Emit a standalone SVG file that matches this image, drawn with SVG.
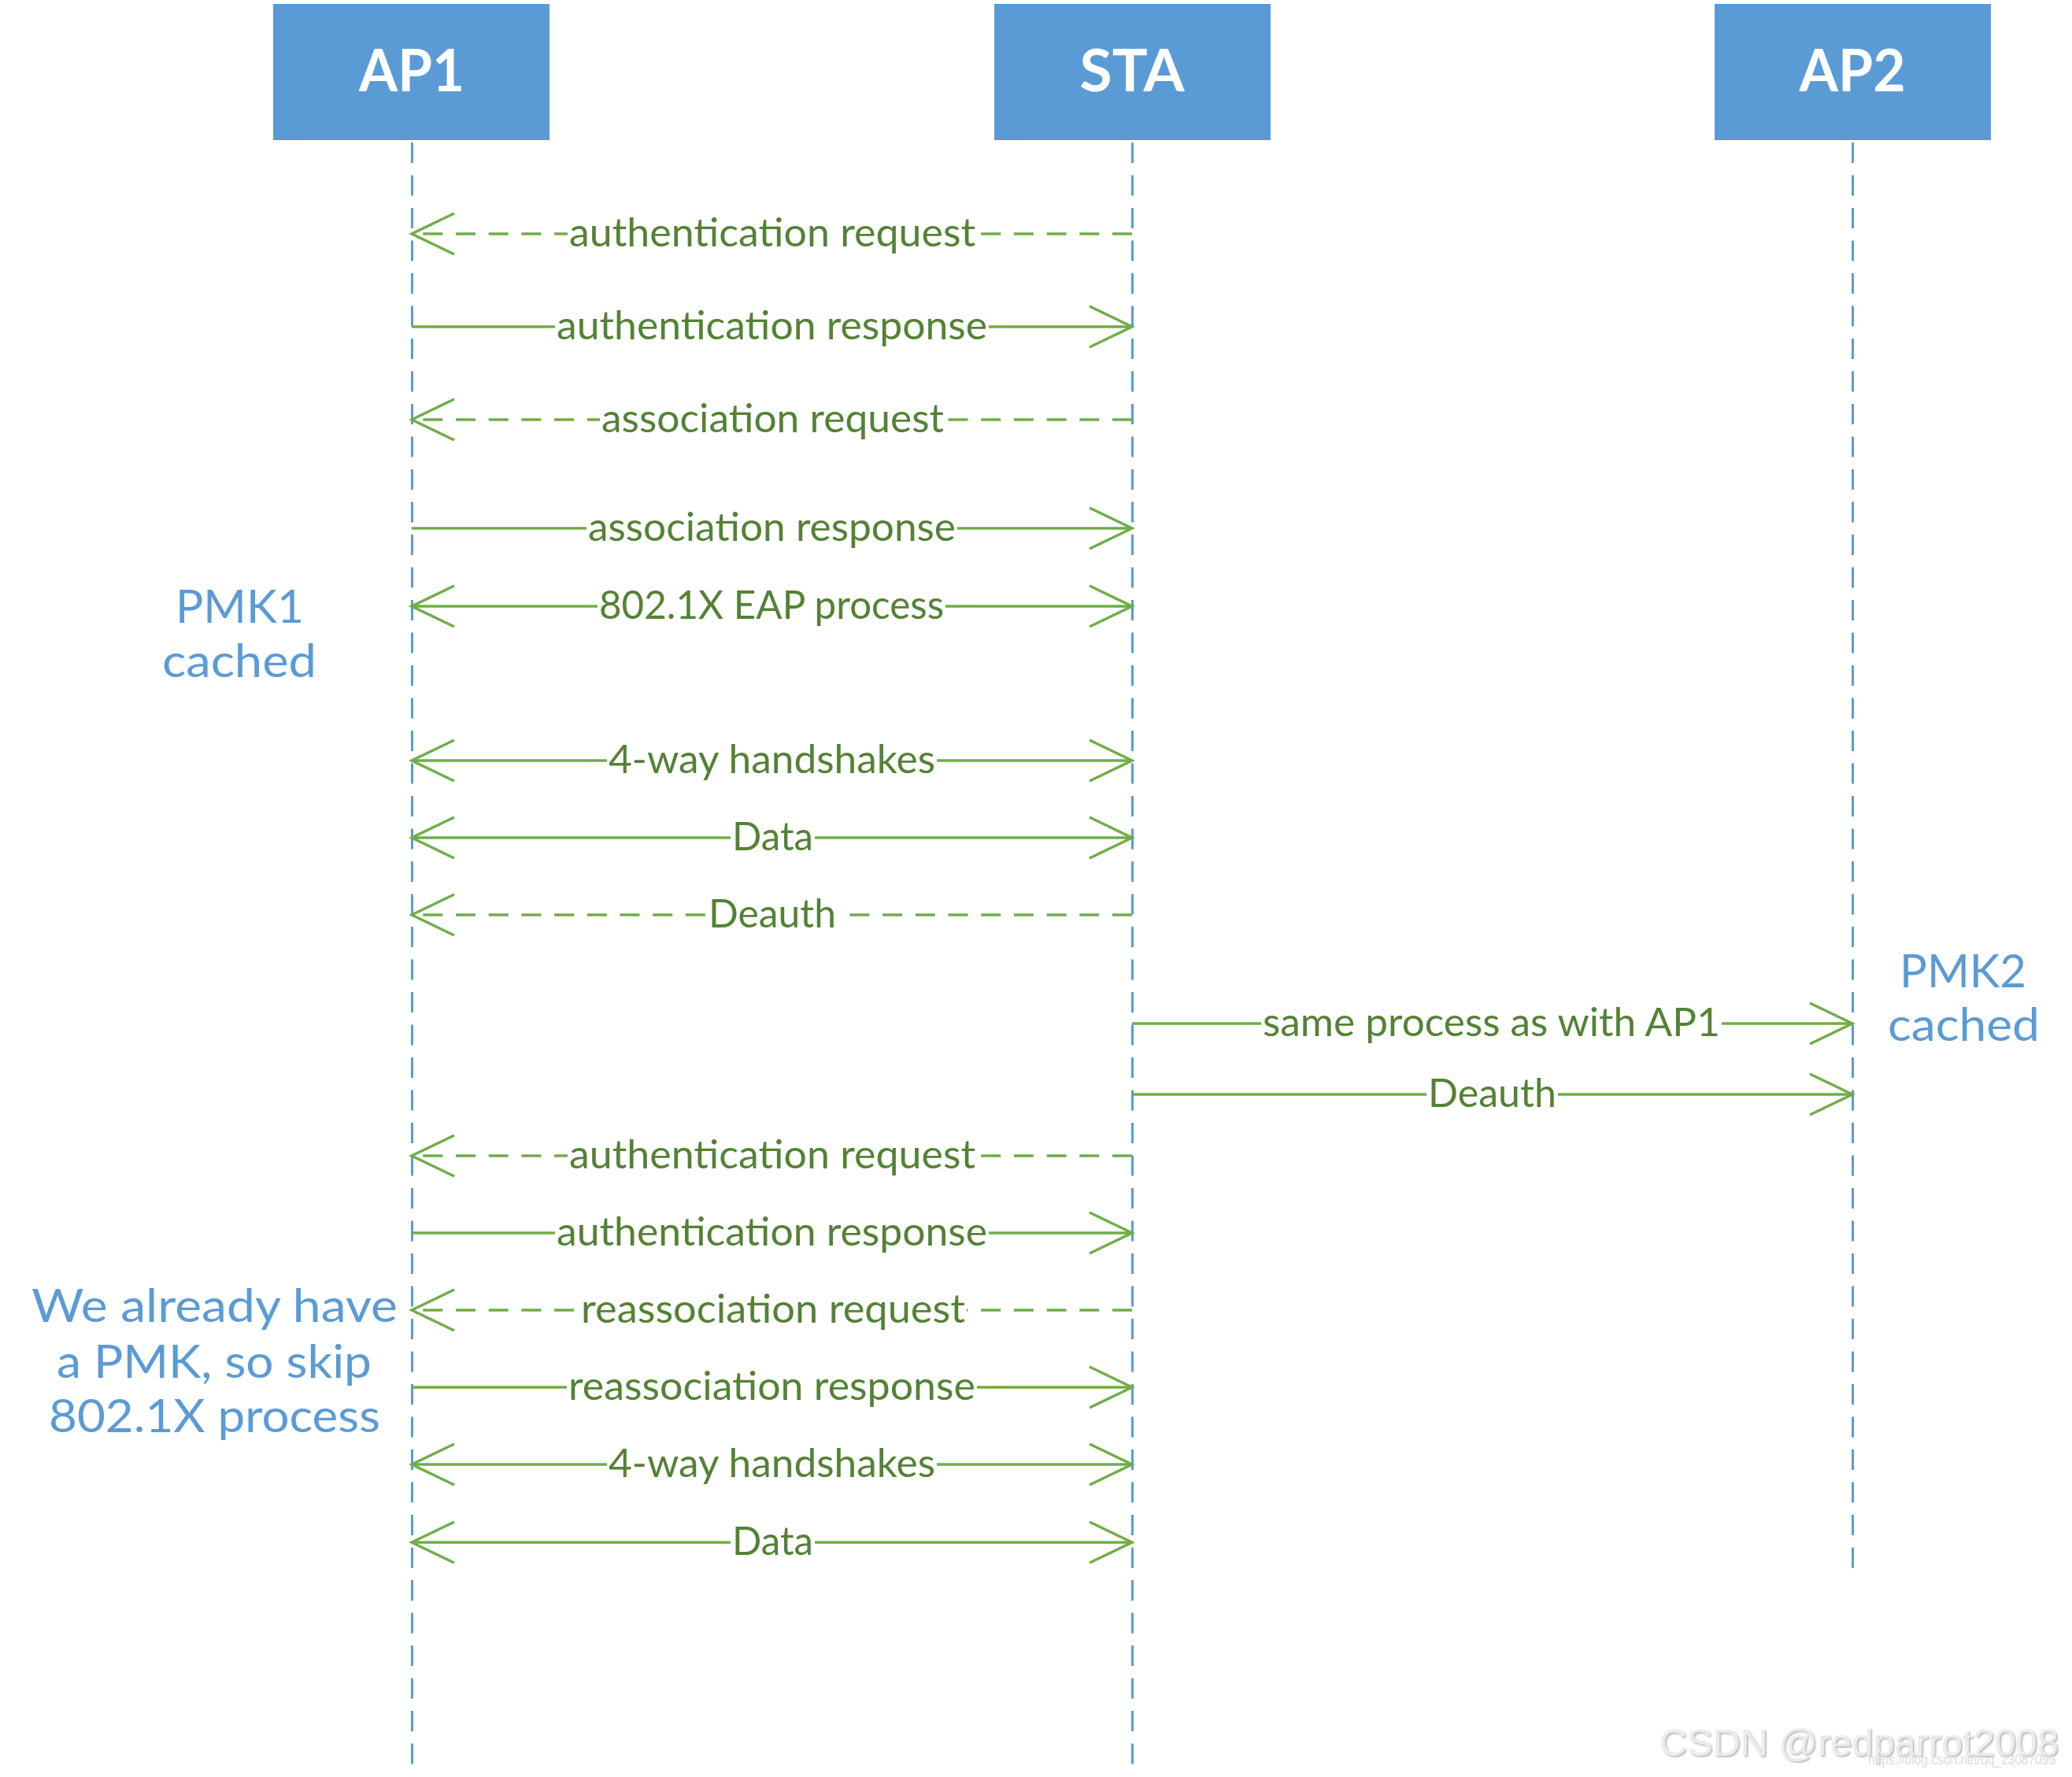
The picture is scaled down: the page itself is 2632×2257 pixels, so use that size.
<svg xmlns="http://www.w3.org/2000/svg" width="2632" height="2257" viewBox="0 0 2632 2257">
<style>
.box{fill:#5B9BD5}
.title{font-family:Lato,"Liberation Sans",sans-serif;font-weight:bold;font-size:75px;fill:#ffffff;text-anchor:middle}
.life{stroke:#5B9BD5;stroke-width:3;stroke-dasharray:26 15.5;fill:none}
.msg{stroke:#70AD47;stroke-width:3.5;fill:none}
.dash{stroke-dasharray:25 16.7}
.lbl{font-family:Lato,"Liberation Sans",sans-serif;font-size:50px;fill:#548235;text-anchor:middle}
.bg{fill:#ffffff}
.note{font-family:Lato,"Liberation Sans",sans-serif;font-size:59px;fill:#5B9BD5;text-anchor:middle}
.wm{font-family:"Liberation Sans",Arial,sans-serif;font-size:48px;fill:#ececec}
</style>
<defs>
<marker id="open" viewBox="-60 -30 64 60" refX="0" refY="0" markerWidth="64" markerHeight="60" markerUnits="userSpaceOnUse" orient="auto-start-reverse" overflow="visible">
<path d="M -54 -26 L 0 0 L -54 26" fill="none" stroke="#70AD47" stroke-width="3.5" stroke-dasharray="none"/>
</marker>
<filter id="shadow" x="-5%" y="-20%" width="110%" height="140%">
<feDropShadow dx="1.5" dy="1.5" stdDeviation="0.8" flood-color="#9a9a9a" flood-opacity="0.8"/>
</filter>
</defs>
<rect width="2632" height="2257" fill="#ffffff"/>

<g id="node-AP1">
<rect class="box" x="347" y="5" width="351" height="173"/>
<text class="title" x="523" y="116" textLength="134" lengthAdjust="spacingAndGlyphs">AP1</text>
<line class="life" x1="523.5" y1="181" x2="523.5" y2="2244"/>
</g>
<g id="node-STA">
<rect class="box" x="1263" y="5" width="351" height="173"/>
<text class="title" x="1438" y="116" textLength="133" lengthAdjust="spacingAndGlyphs">STA</text>
<line class="life" x1="1438.5" y1="181" x2="1438.5" y2="2244"/>
</g>
<g id="node-AP2">
<rect class="box" x="2178" y="5" width="351" height="173"/>
<text class="title" x="2353" y="116" textLength="135" lengthAdjust="spacingAndGlyphs">AP2</text>
<line class="life" x1="2353.5" y1="181" x2="2353.5" y2="1995"/>
</g>

<g id="connectors">
<g id="m1">
<line class="msg dash" x1="1438" y1="297" x2="523" y2="297" marker-end="url(#open)"/>
<rect class="bg" x="721" y="290" width="520" height="14"/>
<text class="lbl" x="981" y="313" textLength="516" lengthAdjust="spacingAndGlyphs">authentication request</text>
</g>
<g id="m2">
<line class="msg" x1="523" y1="415" x2="1438" y2="415" marker-end="url(#open)"/>
<rect class="bg" x="705" y="408" width="551" height="14"/>
<text class="lbl" x="980.5" y="431" textLength="547" lengthAdjust="spacingAndGlyphs">authentication response</text>
</g>
<g id="m3">
<line class="msg dash" x1="1438" y1="533" x2="523" y2="533" marker-end="url(#open)"/>
<rect class="bg" x="762" y="526" width="439" height="14"/>
<text class="lbl" x="981.5" y="549" textLength="435" lengthAdjust="spacingAndGlyphs">association request</text>
</g>
<g id="m4">
<line class="msg" x1="523" y1="671" x2="1438" y2="671" marker-end="url(#open)"/>
<rect class="bg" x="745" y="664" width="471" height="14"/>
<text class="lbl" x="980.5" y="687" textLength="467" lengthAdjust="spacingAndGlyphs">association response</text>
</g>
<g id="m5">
<line class="msg" x1="523" y1="770" x2="1438" y2="770" marker-start="url(#open)" marker-end="url(#open)"/>
<rect class="bg" x="759" y="763" width="442" height="14"/>
<text class="lbl" x="980" y="786" textLength="438" lengthAdjust="spacingAndGlyphs">802.1X EAP process</text>
</g>
<g id="m6">
<line class="msg" x1="523" y1="966" x2="1438" y2="966" marker-start="url(#open)" marker-end="url(#open)"/>
<rect class="bg" x="771" y="959" width="419" height="14"/>
<text class="lbl" x="980.5" y="982" textLength="415" lengthAdjust="spacingAndGlyphs">4-way handshakes</text>
</g>
<g id="m7">
<line class="msg" x1="523" y1="1064" x2="1438" y2="1064" marker-start="url(#open)" marker-end="url(#open)"/>
<rect class="bg" x="928" y="1057" width="107" height="14"/>
<text class="lbl" x="981.5" y="1080" textLength="103" lengthAdjust="spacingAndGlyphs">Data</text>
</g>
<g id="m8">
<line class="msg dash" x1="1438" y1="1162" x2="523" y2="1162" marker-end="url(#open)"/>
<rect class="bg" x="898" y="1155" width="166" height="14"/>
<text class="lbl" x="981" y="1178" textLength="162" lengthAdjust="spacingAndGlyphs">Deauth</text>
</g>
<g id="m9">
<line class="msg" x1="1438" y1="1300" x2="2353" y2="1300" marker-end="url(#open)"/>
<rect class="bg" x="1602" y="1293" width="585" height="14"/>
<text class="lbl" x="1894.5" y="1316" textLength="581" lengthAdjust="spacingAndGlyphs">same process as with AP1</text>
</g>
<g id="m10">
<line class="msg" x1="1438" y1="1390" x2="2353" y2="1390" marker-end="url(#open)"/>
<rect class="bg" x="1812" y="1383" width="167" height="14"/>
<text class="lbl" x="1895.5" y="1406" textLength="163" lengthAdjust="spacingAndGlyphs">Deauth</text>
</g>
<g id="m11">
<line class="msg dash" x1="1438" y1="1468" x2="523" y2="1468" marker-end="url(#open)"/>
<rect class="bg" x="721" y="1461" width="520" height="14"/>
<text class="lbl" x="981" y="1484" textLength="516" lengthAdjust="spacingAndGlyphs">authentication request</text>
</g>
<g id="m12">
<line class="msg" x1="523" y1="1566" x2="1438" y2="1566" marker-end="url(#open)"/>
<rect class="bg" x="705" y="1559" width="551" height="14"/>
<text class="lbl" x="980.5" y="1582" textLength="547" lengthAdjust="spacingAndGlyphs">authentication response</text>
</g>
<g id="m13">
<line class="msg dash" x1="1438" y1="1664" x2="523" y2="1664" marker-end="url(#open)"/>
<rect class="bg" x="736" y="1657" width="492" height="14"/>
<text class="lbl" x="982" y="1680" textLength="488" lengthAdjust="spacingAndGlyphs">reassociation request</text>
</g>
<g id="m14">
<line class="msg" x1="523" y1="1762" x2="1438" y2="1762" marker-end="url(#open)"/>
<rect class="bg" x="720" y="1755" width="521" height="14"/>
<text class="lbl" x="980.5" y="1778" textLength="517" lengthAdjust="spacingAndGlyphs">reassociation response</text>
</g>
<g id="m15">
<line class="msg" x1="523" y1="1860" x2="1438" y2="1860" marker-start="url(#open)" marker-end="url(#open)"/>
<rect class="bg" x="771" y="1853" width="419" height="14"/>
<text class="lbl" x="980.5" y="1876" textLength="415" lengthAdjust="spacingAndGlyphs">4-way handshakes</text>
</g>
<g id="m16">
<line class="msg" x1="523" y1="1959" x2="1438" y2="1959" marker-start="url(#open)" marker-end="url(#open)"/>
<rect class="bg" x="928" y="1952" width="107" height="14"/>
<text class="lbl" x="981.5" y="1975" textLength="103" lengthAdjust="spacingAndGlyphs">Data</text>
</g>
</g>

<g id="note-pmk1">
<text class="note" x="304.5" y="791" textLength="163" lengthAdjust="spacingAndGlyphs">PMK1</text>
<text class="note" x="304" y="860" textLength="196" lengthAdjust="spacingAndGlyphs">cached</text>
</g>
<g id="note-pmk2">
<text class="note" x="2493.5" y="1254" textLength="161" lengthAdjust="spacingAndGlyphs">PMK2</text>
<text class="note" x="2494.5" y="1322" textLength="193" lengthAdjust="spacingAndGlyphs">cached</text>
</g>
<g id="note-skip">
<text class="note" x="272.5" y="1679" textLength="465" lengthAdjust="spacingAndGlyphs">We already have</text>
<text class="note" x="272" y="1750" textLength="400" lengthAdjust="spacingAndGlyphs">a PMK, so skip</text>
<text class="note" x="272.5" y="1819" textLength="421" lengthAdjust="spacingAndGlyphs">802.1X process</text>
</g>

<g id="watermark">
<text class="wm" x="2108" y="2230" filter="url(#shadow)" textLength="507" lengthAdjust="spacingAndGlyphs">CSDN @redparrot2008</text>
<text x="2373" y="2241" font-family="'Liberation Sans',Arial,sans-serif" font-size="18" fill="#dcdcdc" textLength="238" lengthAdjust="spacingAndGlyphs">https://blog.csdn.net/qq_23087099</text>
</g>
</svg>
